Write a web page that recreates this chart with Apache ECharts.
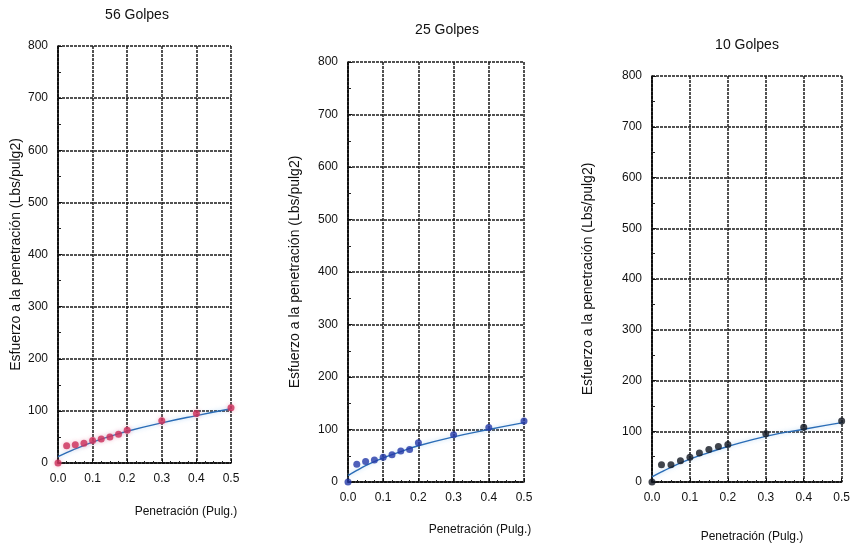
<!DOCTYPE html>
<html>
<head>
<meta charset="utf-8">
<script src="https://cdn.jsdelivr.net/npm/echarts@6/dist/echarts.min.js"></script>
<style>
  html, body { margin: 0; padding: 0; background: #ffffff; }
  #chart { width: 853px; height: 548px; }
</style>
</head>
<body>
<div id="chart"></div>
<script>
// Penetration readings (in.) and measured stress (lb/in²) for each compaction energy
const penetration = [0, 0.025, 0.05, 0.075, 0.1, 0.125, 0.15, 0.175, 0.2, 0.3, 0.4, 0.5];
const stress56 = [0, 33, 35, 38, 43, 46, 50, 55, 63, 81, 95, 106];
const stress25 = [0, 34, 39, 42, 47, 52, 59, 62, 75, 90, 104, 116];
const stress10 = [0, 34, 34, 42, 49, 57, 64, 70, 74, 95, 108, 120];

// Fitted trend curves
const fitX = [0, 0.025, 0.05, 0.1, 0.15, 0.2, 0.3, 0.4, 0.5];
const fit56 = [12, 20, 27, 40, 51, 61, 77, 91, 104];
const fit25 = [12, 22, 31, 46, 58, 69, 86, 100, 113];
const fit10 = [10, 20, 29, 45, 58, 70, 90, 104, 117];

const panelTitles = ['56 Golpes', '25 Golpes', '10 Golpes'];
const xAxisTitle = 'Penetración (Pulg.)';
const yAxisTitle = 'Esfuerzo a la penetración (Lbs/pulg2)';
const xTicks = [0, 0.1, 0.2, 0.3, 0.4, 0.5];
const yTicks = [0, 100, 200, 300, 400, 500, 600, 700, 800];

const measured = [stress56, stress25, stress10];
const fitted = [fit56, fit25, fit10];
const pointColors = ['#cc2e5a', '#2338a8', '#121620'];
const curveColor = '#2a6cb6';
const font = 'Liberation Sans, Arial, sans-serif';

// Layout of the three panels
const panels = [
  { left: 58, top: 46, width: 173, height: 417, nameGap: 35, titleX: 137, titleY: 15, xNameX: 186, xNameY: 512 },
  { left: 348, top: 62, width: 176, height: 420, nameGap: 46, titleX: 447, titleY: 30, xNameX: 480, xNameY: 530 },
  { left: 652, top: 76, width: 193, height: 406, nameGap: 57, titleX: 747, titleY: 45, xNameX: 752, xNameY: 537 }
];

const pair = (xs, ys) => xs.map((x, i) => [x, ys[i]]);

const gridLine = { show: true, lineStyle: { color: '#1a1a1a', width: 1.5, type: [3, 1] } };
const axisLineStyle = { show: true, onZero: false, lineStyle: { color: '#000', width: 1.6 } };

const option = {
  backgroundColor: '#ffffff',
  animation: false,
  textStyle: { fontFamily: font },
  grid: panels.map(p => ({ left: p.left, top: p.top, width: p.width, height: p.height, containLabel: false })),
  xAxis: panels.map((p, i) => ({
    type: 'value',
    gridIndex: i,
    min: xTicks[0],
    max: xTicks[xTicks.length - 1],
    interval: 0.1,
    axisLine: axisLineStyle,
    axisTick: { show: true, inside: true, length: 4, lineStyle: { color: '#111' } },
    minorTick: { show: true, splitNumber: 4, length: 2, lineStyle: { color: '#222' } },
    axisLabel: { fontSize: 12, color: '#111', margin: 10, formatter: v => v.toFixed(1) },
    splitLine: gridLine
  })),
  yAxis: panels.map((p, i) => ({
    type: 'value',
    gridIndex: i,
    min: yTicks[0],
    max: yTicks[yTicks.length - 1],
    interval: 100,
    name: yAxisTitle,
    nameLocation: 'middle',
    nameRotate: 90,
    nameGap: p.nameGap,
    nameTextStyle: { fontSize: 14, color: '#111' },
    axisLine: axisLineStyle,
    axisTick: { show: true, inside: true, length: 4, lineStyle: { color: '#111' } },
    minorTick: { show: true, splitNumber: 2, length: 3, lineStyle: { color: '#222' } },
    axisLabel: { fontSize: 12, color: '#111', margin: 10 },
    splitLine: gridLine
  })),
  graphic: panels.flatMap((p, i) => [
    {
      type: 'text', x: p.titleX, y: p.titleY,
      style: { text: panelTitles[i], fontSize: 14, fill: '#111', align: 'center', verticalAlign: 'middle', fontFamily: font }
    },
    {
      type: 'text', x: p.xNameX, y: p.xNameY,
      style: { text: xAxisTitle, fontSize: 12, fill: '#111', align: 'center', verticalAlign: 'middle', fontFamily: font }
    }
  ]),
  series: panels.flatMap((p, i) => [
    {
      type: 'line',
      xAxisIndex: i,
      yAxisIndex: i,
      data: pair(fitX, fitted[i]),
      smooth: true,
      showSymbol: false,
      lineStyle: { color: curveColor, width: 1.4, shadowColor: 'rgba(120,180,235,0.6)', shadowBlur: 4 },
      z: 3
    },
    {
      type: 'scatter',
      xAxisIndex: i,
      yAxisIndex: i,
      data: pair(penetration, measured[i]),
      symbol: 'circle',
      symbolSize: 7,
      itemStyle: { color: pointColors[i], shadowColor: i === 0 ? 'rgba(240,120,150,0.6)' : 'rgba(0,0,0,0)', shadowBlur: i === 0 ? 4 : 0 },
      z: 4
    }
  ])
};

const chart = echarts.init(document.getElementById('chart'), null, { renderer: 'canvas' });
chart.setOption(option);
</script>
</body>
</html>
